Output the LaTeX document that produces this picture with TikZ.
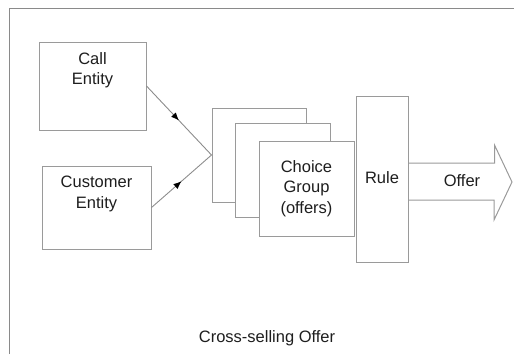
\documentclass[tikz,border=0pt]{standalone}
\usepackage{fontspec}
\setmainfont{Liberation Sans}
\usetikzlibrary{arrows.meta,calc,decorations.markings,positioning}
\definecolor{boxgray}{HTML}{9A9A9A}
\definecolor{framegray}{HTML}{8A8A8A}
\definecolor{txtgray}{HTML}{1E1E1E}
\tikzset{
entitybox/.style={
  rectangle,
  line width=1pt,
  draw=boxgray,
  fill=white,
  inner sep=0pt,
  }
}
\tikzset{
lbl/.style={
  align=center,
  inner sep=0pt,
  text=txtgray,
  font=\fontsize{16.5}{20.5}\selectfont,
  }
}
\tikzset{
midarrow/.style={
  line width=0.9pt,
  draw=gray!90,
  postaction={decorate},
  decoration={markings, mark=at position 0.5 with {\arrow[black]{Latex[length=8pt,width=6.5pt]}}},
  }
}

\begin{document}
\begin{tikzpicture}[x=1pt,y=-1pt]
    \useasboundingbox (0,0) rectangle (514,354);
    \draw[framegray, line width=1.2pt] (9.5,354) -- (9.5,8.3) -- (514,8.3);

    % entity part
    \node[entitybox, minimum width=107, minimum height=88] (call) at (92.5,86) {};
    \node[lbl] (calltxt) at (92.5,70) {Call\\Entity};
    \node[entitybox, minimum width=109, minimum height=83] (cust) at (96.5,207.5) {};
    \node[lbl] (custtxt) at (96.5,194) {Customer\\Entity};

    % choice group part
    \node[entitybox, minimum width=94, minimum height=94] (back) at (259,155) {};
    \node[entitybox, minimum width=95, minimum height=94] (mid) at (282.5,170) {};
    \node[entitybox, minimum width=95, minimum height=95] (front) at (306.5,188.5) {};
    \node[lbl] (fronttxt) at (front) {Choice\\Group\\(offers)};

    % rule part
    \node[entitybox, minimum width=52, minimum height=166] (rule) at (382,179) {};
    \node[lbl] (ruletxt) at (382,178) {Rule};

    % offer arrow
    \coordinate (shafttop) at ($(rule.east)+(0,-16)$);
    \coordinate (shaftbot) at ($(rule.east)+(0,21)$);
    \draw[boxgray, line width=1pt] (shafttop) -- ++(86,0) -- ++(0,-18) -- (512,182)
      -- (494,220) -- (494,200) -- (shaftbot);
    \node[lbl] (offertxt) at (462,181) {Offer};

    % entity edges
    \draw[midarrow] (call.east) -- (back.west);
    \draw[midarrow] (cust.east) -- (back.west);

    \node[lbl] (caption) at (267,338) {Cross-selling Offer};
\end{tikzpicture}
\end{document}
